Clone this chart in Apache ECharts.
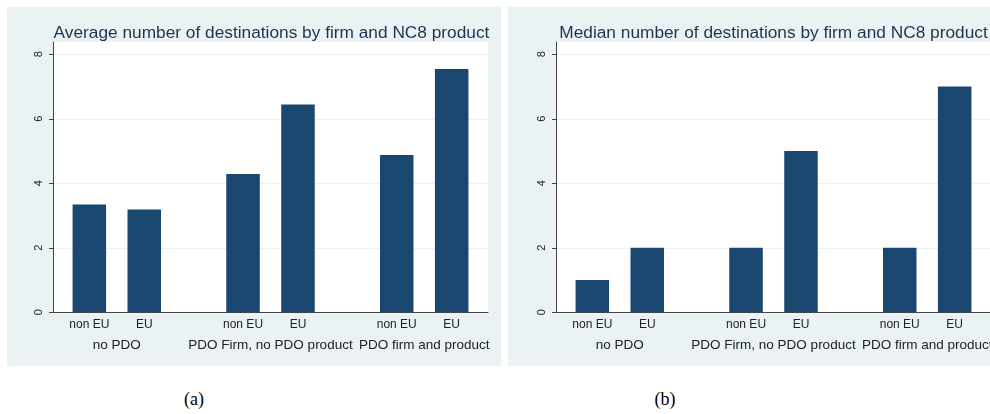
<!DOCTYPE html>
<html>
<head>
<meta charset="utf-8">
<script src="https://cdn.jsdelivr.net/npm/echarts@6/dist/echarts.min.js"></script>
<style>
  html, body { margin: 0; padding: 0; background: #ffffff; }
  body { width: 990px; height: 414px; overflow: hidden; position: relative; }
  .panel { position: absolute; top: 7px; width: 494px; height: 359px; background: #eaf2f3; }
  .caption { position: absolute; top: 389px; width: 60px; margin-left: -30px; text-align: center;
             font-family: "Liberation Serif", "DejaVu Serif", serif; font-size: 18px; color: #000; }
</style>
</head>
<body>
<div id="chartA" class="panel" style="left:7px"></div>
<div id="chartB" class="panel" style="left:508px"></div>
<div class="caption" style="left:194px">(a)</div>
<div class="caption" style="left:665px">(b)</div>
<script>
// Firm groups and destination-market split
const groups = ['no PDO', 'PDO Firm, no PDO product', 'PDO firm and product'];
const markets = ['non EU', 'EU'];
const yTicks = [0, 2, 4, 6, 8];

// Average number of destinations
const avgNonEU = [3.34, 4.29, 4.88];
const avgEU = [3.19, 6.44, 7.54];

// Median number of destinations
const medNonEU = [1, 2, 2];
const medEU = [2, 5, 7];

const BAR = '#1a476f';
const INK = '#222222';
const AXIS = '#444444';
const FONT = '"Liberation Sans", Arial, Helvetica, sans-serif';

function barSeries(name, values) {
  return {
    name: name,
    type: 'bar',
    barWidth: 33.5,
    barGap: '64%',
    itemStyle: { color: BAR },
    label: {
      show: true,
      position: 'bottom',
      distance: 6,
      formatter: () => name,
      color: INK,
      fontFamily: FONT,
      fontSize: 12
    },
    emphasis: { disabled: true },
    data: values.map((v, i) => [i, v])
  };
}

function buildOption(title, nonEU, eu, gridLeft, gridRight, titleX) {
  return {
    animation: false,
    title: {
      text: title,
      left: titleX,
      top: 13,
      textAlign: 'center',
      textStyle: { color: '#1f3352', fontFamily: FONT, fontSize: 17.3, fontWeight: 'normal' }
    },
    grid: {
      left: gridLeft, right: gridRight, top: 35, bottom: 53.7,
      show: true, backgroundColor: '#ffffff', borderWidth: 0,
      containLabel: false
    },
    xAxis: {
      type: 'value',
      min: -0.415,
      max: 2.415,
      axisLine: { show: true, onZero: false, lineStyle: { color: AXIS, width: 1 } },
      axisTick: { show: false },
      splitLine: { show: false },
      axisLabel: {
        customValues: [0, 1, 2],
        formatter: v => groups[Math.round(v)],
        margin: 26,
        color: INK,
        fontFamily: FONT,
        fontSize: 13.5,
        showMinLabel: true,
        showMaxLabel: true,
        hideOverlap: false
      }
    },
    yAxis: {
      type: 'value',
      min: 0,
      max: 8.38,
      axisLine: { show: true, onZero: false, lineStyle: { color: AXIS, width: 1 } },
      axisTick: { show: true, length: 4, customValues: yTicks, lineStyle: { color: AXIS } },
      splitLine: { show: true, lineStyle: { color: '#e8f0f1', width: 1 } },
      axisLabel: {
        customValues: yTicks,
        rotate: 90,
        margin: 9,
        color: INK,
        fontFamily: FONT,
        fontSize: 11
      }
    },
    series: [barSeries(markets[0], nonEU), barSeries(markets[1], eu)]
  };
}

const chartA = echarts.init(document.getElementById('chartA'), null, { renderer: 'canvas' });
chartA.setOption(buildOption('Average number of destinations by firm and NC8 product', avgNonEU, avgEU, 46, 13, 259.5));

const chartB = echarts.init(document.getElementById('chartB'), null, { renderer: 'canvas' });
chartB.setOption(buildOption('Median number of destinations by firm and NC8 product', medNonEU, medEU, 48, 11, 260.5));
</script>
</body>
</html>
